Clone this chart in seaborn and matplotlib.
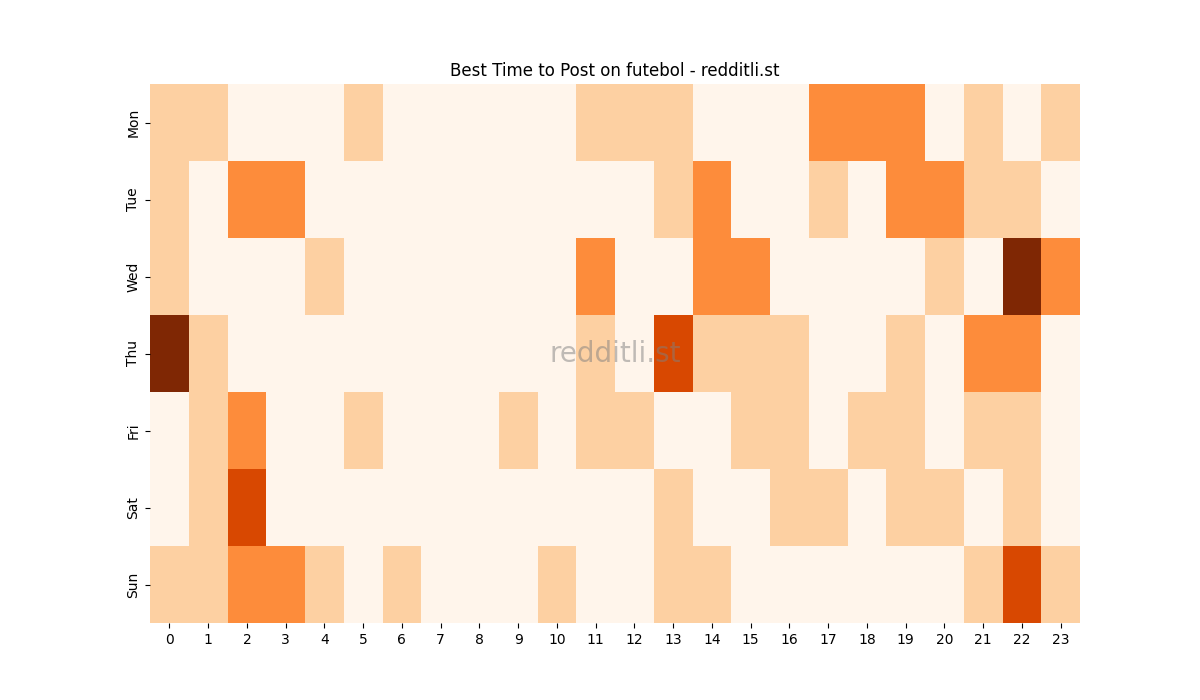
import pandas as pd
import matplotlib
matplotlib.use('Agg')
import matplotlib.pyplot as plt
import seaborn as sns

days = ['Mon', 'Tue', 'Wed', 'Thu', 'Fri', 'Sat', 'Sun']
hours = list(range(24))

# post activity level per day/hour
mon = [1, 1, 0, 0, 0, 1, 0, 0, 0, 0, 0, 1, 1, 1, 0, 0, 0, 2, 2, 2, 0, 1, 0, 1]
tue = [1, 0, 2, 2, 0, 0, 0, 0, 0, 0, 0, 0, 0, 1, 2, 0, 0, 1, 0, 2, 2, 1, 1, 0]
wed = [1, 0, 0, 0, 1, 0, 0, 0, 0, 0, 0, 2, 0, 0, 2, 2, 0, 0, 0, 0, 1, 0, 4, 2]
thu = [4, 1, 0, 0, 0, 0, 0, 0, 0, 0, 0, 1, 0, 3, 1, 1, 1, 0, 0, 1, 0, 2, 2, 0]
fri = [0, 1, 2, 0, 0, 1, 0, 0, 0, 1, 0, 1, 1, 0, 0, 1, 1, 0, 1, 1, 0, 1, 1, 0]
sat = [0, 1, 3, 0, 0, 0, 0, 0, 0, 0, 0, 0, 0, 1, 0, 0, 1, 1, 0, 1, 1, 0, 1, 0]
sun = [1, 1, 2, 2, 1, 0, 1, 0, 0, 0, 1, 0, 0, 1, 1, 0, 0, 0, 0, 0, 0, 1, 3, 1]

df = pd.DataFrame([mon, tue, wed, thu, fri, sat, sun], index=days, columns=hours)

fig, ax = plt.subplots(figsize=(12, 7))
sns.heatmap(df, cmap='Oranges', vmin=0, vmax=4, cbar=False, ax=ax)

ax.set_title('Best Time to Post on futebol - redditli.st')
ax.text(0.5, 0.5, 'redditli.st', transform=ax.transAxes, ha='center', va='center',
        fontsize=20, color='gray', alpha=0.5)

plt.savefig('out.png', dpi=100)
plt.close()
